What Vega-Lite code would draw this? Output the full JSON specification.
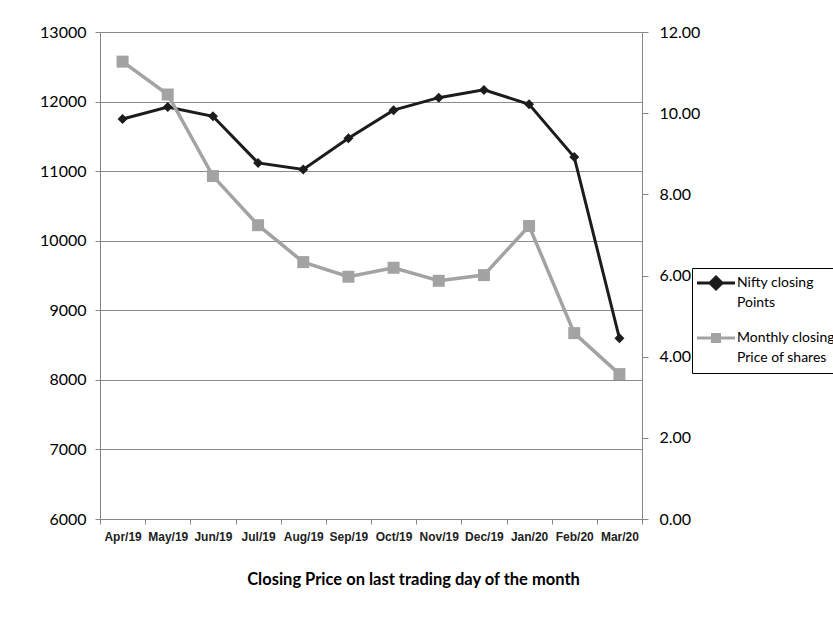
{
  "$schema": "https://vega.github.io/schema/vega-lite/v6.json",
  "width": 542,
  "height": 487,
  "autosize": "none",
  "padding": {"left": 100, "top": 32, "right": 191, "bottom": 102},
  "background": "white",
  "config": {
    "view": {"stroke": null},
    "axis": {
      "domainColor": "#868686",
      "tickColor": "#868686",
      "gridColor": "#8a8a8a",
      "gridOpacity": 1,
      "domainWidth": 1,
      "tickWidth": 1,
      "labelColor": "#000000",
      "titleColor": "#000000"
    }
  },
  "data": {
    "values": [
      {"month": "Apr/19", "series": "Nifty closing Points", "value": 11750},
      {"month": "May/19", "series": "Nifty closing Points", "value": 11923},
      {"month": "Jun/19", "series": "Nifty closing Points", "value": 11789},
      {"month": "Jul/19", "series": "Nifty closing Points", "value": 11118},
      {"month": "Aug/19", "series": "Nifty closing Points", "value": 11023},
      {"month": "Sep/19", "series": "Nifty closing Points", "value": 11474},
      {"month": "Oct/19", "series": "Nifty closing Points", "value": 11877},
      {"month": "Nov/19", "series": "Nifty closing Points", "value": 12056},
      {"month": "Dec/19", "series": "Nifty closing Points", "value": 12168},
      {"month": "Jan/20", "series": "Nifty closing Points", "value": 11962},
      {"month": "Feb/20", "series": "Nifty closing Points", "value": 11202},
      {"month": "Mar/20", "series": "Nifty closing Points", "value": 8598},
      {"month": "Apr/19", "series": "Monthly closing Price of shares", "value": 11.27},
      {"month": "May/19", "series": "Monthly closing Price of shares", "value": 10.46},
      {"month": "Jun/19", "series": "Monthly closing Price of shares", "value": 8.45},
      {"month": "Jul/19", "series": "Monthly closing Price of shares", "value": 7.24},
      {"month": "Aug/19", "series": "Monthly closing Price of shares", "value": 6.33},
      {"month": "Sep/19", "series": "Monthly closing Price of shares", "value": 5.97},
      {"month": "Oct/19", "series": "Monthly closing Price of shares", "value": 6.19},
      {"month": "Nov/19", "series": "Monthly closing Price of shares", "value": 5.87},
      {"month": "Dec/19", "series": "Monthly closing Price of shares", "value": 6.01},
      {"month": "Jan/20", "series": "Monthly closing Price of shares", "value": 7.22},
      {"month": "Feb/20", "series": "Monthly closing Price of shares", "value": 4.58},
      {"month": "Mar/20", "series": "Monthly closing Price of shares", "value": 3.57}
    ]
  },
  "encoding": {
    "x": {
      "field": "month",
      "type": "nominal",
      "sort": ["Apr/19", "May/19", "Jun/19", "Jul/19", "Aug/19", "Sep/19", "Oct/19", "Nov/19", "Dec/19", "Jan/20", "Feb/20", "Mar/20"],
      "scale": {"type": "band", "paddingInner": 0, "paddingOuter": 0},
      "bandPosition": 0.5,
      "axis": {
        "title": "Closing Price on last trading day of the month",
        "titleFont": "Lato",
        "titleFontSize": 16.5,
        "titleFontWeight": "bold",
        "titlePadding": 29,
        "titleX": 313,
        "titleAlign": "center",
        "labelFont": "Liberation Sans",
        "labelFontSize": 12,
        "labelFontWeight": "bold",
        "labelColor": "#222222",
        "labelAngle": 0,
        "labelPadding": 7,
        "labelOverlap": false,
        "tickBand": "extent",
        "tickSize": 5,
        "grid": false
      }
    },
    "color": {
      "field": "series",
      "type": "nominal",
      "scale": {
        "domain": ["Nifty closing Points", "Monthly closing Price of shares"],
        "range": ["#1c1c1c", "#a3a3a3"]
      },
      "legend": {
        "orient": "none",
        "legendX": 592,
        "legendY": 236,
        "title": null,
        "strokeColor": "#000000",
        "fillColor": "#ffffff",
        "padding": 8,
        "labelFont": "Lato",
        "labelFontSize": 14,
        "labelColor": "#000000",
        "labelLimit": 300,
        "symbolOffset": 9,
        "labelOffset": 14,
        "rowPadding": 18,
        "labelExpr": "datum.label == 'Nifty closing Points' ? ['Nifty closing', 'Points'] : ['Monthly closing', 'Price of shares']",
        "encode": {
          "symbols": {
            "update": {
              "shape": {"signal": "datum.value == 'Nifty closing Points' ? 'M-3.8,0H3.8M0,-1.2L1.2,0L0,1.2L-1.2,0Z' : 'M-3.8,0H3.8M-0.7,-0.7H0.7V0.7H-0.7Z'"},
              "fill": {"signal": "datum.value == 'Nifty closing Points' ? '#000000' : '#7a7a7a'"},
              "stroke": {"signal": "datum.value == 'Nifty closing Points' ? '#000000' : '#7a7a7a'"},
              "strokeWidth": {"value": 3},
              "opacity": {"value": 1}
            }
          },
          "labels": {
            "update": {
              "lineHeight": {"value": 20}
            }
          }
        }
      }
    }
  },
  "layer": [
    {
      "transform": [{"filter": "datum.series === 'Nifty closing Points'"}],
      "encoding": {
        "y": {
          "field": "value",
          "type": "quantitative",
          "scale": {"domain": [6000, 13000], "nice": false, "zero": false},
          "axis": {
            "title": null,
            "orient": "left",
            "values": [6000, 7000, 8000, 9000, 10000, 11000, 12000, 13000],
            "format": "d",
            "grid": true,
            "labelFont": "Lato",
            "labelFontSize": 16,
            "labelPadding": 9,
            "tickSize": 5
          }
        }
      },
      "layer": [
        {"mark": {"type": "line", "strokeWidth": 3}},
        {"mark": {"type": "point", "shape": "diamond", "filled": true, "size": 100, "opacity": 1}}
      ]
    },
    {
      "transform": [{"filter": "datum.series === 'Monthly closing Price of shares'"}],
      "encoding": {
        "y": {
          "field": "value",
          "type": "quantitative",
          "scale": {"domain": [0, 12], "nice": false},
          "axis": {
            "title": null,
            "orient": "right",
            "values": [0, 2, 4, 6, 8, 10, 12],
            "format": ".2f",
            "grid": false,
            "labelFont": "Lato",
            "labelFontSize": 16,
            "labelPadding": 11,
            "tickSize": 6
          }
        }
      },
      "layer": [
        {"mark": {"type": "line", "strokeWidth": 3.5}},
        {"mark": {"type": "square", "size": 144, "opacity": 1}}
      ]
    }
  ],
  "resolve": {"scale": {"y": "independent"}}
}
